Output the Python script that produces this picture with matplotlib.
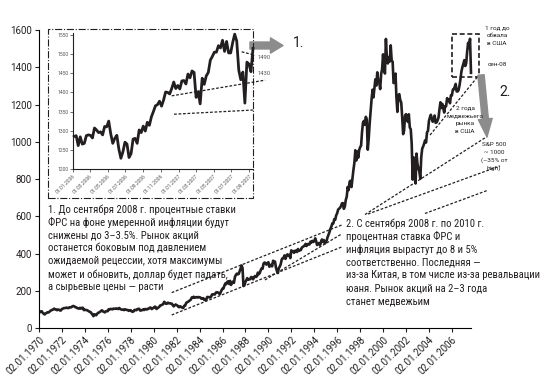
import matplotlib
matplotlib.use("Agg")
import matplotlib.pyplot as plt
import matplotlib.dates as mdates
from matplotlib import font_manager
from matplotlib.patches import Rectangle
import pandas as pd

# S&P 500, monthly, Jan 1970 - Aug 2007
sp500_monthly = [
    85.0, 89.5, 89.6, 81.5, 76.6, 72.7, 78.1, 81.5, 84.3, 83.3, 87.2, 92.2,
    95.9, 96.8, 100.3, 103.9, 99.6, 99.7, 95.6, 99.0, 98.3, 94.2, 94.0, 102.1,
    103.9, 106.6, 107.2, 107.7, 109.5, 107.1, 107.4, 111.1, 110.6, 111.6, 116.7, 118.1,
    116.0, 111.7, 111.5, 107.0, 105.0, 104.3, 108.2, 104.3, 108.4, 108.3, 96.0, 97.6,
    96.6, 96.2, 94.0, 90.3, 87.3, 86.0, 79.3, 72.2, 63.5, 73.9, 70.0, 68.6,
    77.0, 81.6, 83.4, 87.3, 91.2, 95.2, 88.8, 86.9, 83.9, 89.0, 91.2, 90.2,
    100.9, 99.7, 102.8, 101.6, 100.2, 104.3, 103.4, 102.9, 105.2, 102.9, 102.1, 107.5,
    102.0, 99.8, 98.4, 98.4, 96.1, 100.5, 98.9, 96.8, 96.5, 92.3, 94.8, 95.1,
    89.3, 87.0, 89.2, 96.8, 97.2, 95.5, 100.7, 103.3, 102.5, 93.2, 94.7, 96.1,
    99.9, 96.3, 101.6, 101.8, 99.1, 102.9, 103.8, 109.3, 109.3, 101.8, 106.2, 107.9,
    114.2, 113.7, 102.1, 106.3, 111.2, 114.2, 121.7, 122.4, 125.5, 127.5, 140.5, 135.8,
    129.6, 131.3, 136.0, 132.8, 132.6, 131.2, 130.9, 122.8, 116.2, 121.9, 126.4, 122.6,
    120.4, 113.1, 112.0, 116.4, 111.9, 109.6, 107.1, 119.5, 120.4, 133.7, 138.5, 140.6,
    145.3, 148.1, 153.0, 164.4, 162.4, 168.1, 162.6, 164.4, 166.1, 163.6, 166.4, 164.9,
    163.4, 157.1, 159.2, 160.1, 150.6, 153.2, 150.7, 166.7, 166.1, 166.1, 163.6, 167.2,
    179.6, 181.2, 180.7, 179.8, 189.6, 191.9, 190.9, 188.6, 182.1, 189.8, 202.2, 211.3,
    211.8, 226.9, 238.9, 235.5, 247.4, 250.8, 236.1, 252.9, 231.3, 244.0, 249.2, 242.2,
    274.1, 284.2, 291.7, 288.4, 290.1, 304.0, 318.7, 336.0, 321.8, 225.0, 230.3, 247.1,
    257.1, 267.8, 258.9, 261.3, 262.2, 273.5, 272.0, 261.5, 271.9, 279.0, 273.7, 277.7,
    297.5, 288.9, 294.9, 309.6, 320.5, 318.0, 346.1, 351.5, 349.2, 340.4, 346.0, 353.4,
    329.1, 331.9, 339.9, 330.8, 361.2, 358.0, 356.2, 322.6, 306.1, 295.0, 322.2, 330.2,
    343.9, 367.1, 375.2, 375.4, 389.8, 371.2, 387.8, 395.4, 387.9, 392.5, 375.2, 417.1,
    408.8, 412.7, 403.7, 415.0, 415.4, 408.1, 424.2, 414.0, 417.8, 418.7, 431.4, 435.7,
    438.8, 443.4, 451.7, 440.2, 450.2, 450.5, 448.1, 463.6, 458.9, 467.8, 461.8, 466.5,
    481.6, 467.1, 445.8, 450.9, 456.5, 444.3, 458.3, 475.5, 462.7, 472.4, 453.7, 459.3,
    470.4, 487.4, 500.7, 514.7, 533.4, 544.8, 562.1, 561.9, 584.4, 581.5, 605.4, 615.9,
    636.0, 640.4, 645.5, 654.2, 669.1, 670.6, 640.0, 652.0, 687.3, 705.3, 757.0, 740.7,
    786.2, 790.8, 757.1, 801.3, 848.3, 885.1, 954.3, 899.5, 947.3, 914.6, 955.4, 970.4,
    980.3, 1049.3, 1101.8, 1111.8, 1090.8, 1133.8, 1120.7, 957.3, 1017.0, 1098.7, 1163.6, 1229.2,
    1279.6, 1238.3, 1286.4, 1335.2, 1301.8, 1372.7, 1328.7, 1320.4, 1282.7, 1362.9, 1388.9, 1469.3,
    1394.5, 1366.4, 1552.0, 1452.4, 1420.6, 1454.6, 1430.8, 1517.7, 1436.5, 1429.4, 1315.0, 1320.3,
    1366.0, 1239.9, 1160.3, 1249.5, 1255.8, 1224.4, 1211.2, 1133.6, 1040.9, 1059.8, 1139.5, 1148.1,
    1130.2, 1106.7, 1147.4, 1076.9, 1067.1, 989.8, 797.0, 916.1, 815.3, 776.0, 936.3, 879.8,
    855.7, 841.2, 800.7, 916.9, 963.6, 974.5, 990.3, 1008.0, 996.0, 1050.7, 1058.2, 1111.9,
    1131.1, 1144.9, 1126.2, 1107.3, 1120.7, 1140.8, 1101.7, 1104.2, 1114.6, 1130.2, 1173.8, 1211.9,
    1181.3, 1203.6, 1180.6, 1156.9, 1191.5, 1191.3, 1234.2, 1220.3, 1228.8, 1207.0, 1249.5, 1248.3,
    1280.1, 1280.7, 1294.8, 1310.6, 1270.1, 1270.2, 1276.7, 1303.8, 1335.9, 1377.9, 1400.6, 1418.3,
    1438.2, 1406.8, 1420.9, 1482.4, 1530.6, 1503.4, 1553.0, 1370.0,
]

# S&P 500, weekly, Jan 2006 - mid Sep 2007 (inset)
sp500_weekly = [
    1285, 1287, 1261, 1284,
    1265, 1267, 1287, 1289,
    1288, 1281, 1307, 1302, 1295,
    1297, 1289, 1311, 1310,
    1325, 1292, 1267, 1280,
    1288, 1252, 1228, 1245, 1270,
    1265, 1230, 1240, 1278,
    1280, 1267, 1302, 1295,
    1312, 1299, 1322, 1314, 1336,
    1350, 1365, 1368, 1377,
    1364, 1380, 1401, 1400,
    1396, 1410, 1427, 1410, 1418,
    1409, 1430, 1431, 1422,
    1448, 1438, 1456, 1452,
    1387, 1402, 1370, 1437, 1421,
    1443, 1452, 1484, 1494,
    1505, 1505, 1522, 1516,
    1536, 1507, 1533, 1503, 1503,
    1530, 1552, 1534, 1458,
    1433, 1453, 1372, 1479, 1474,
    1454, 1515,
]

main_ticks = [pd.Timestamp(f"{y}-01-02") for y in range(1970, 2007, 2)]
main_yticks = list(range(0, 1601, 200))
inset_ticks = pd.date_range("2006-01-01", "2007-09-01", freq="2MS")
inset_yticks = list(range(1200, 1551, 50))

# trend lines on the main chart: (start year, start value, end year, end value)
trend_lines = [
    (1981.57, 190, 1996.39, 553),
    (1981.57, 70, 1996.39, 435),
    (1989.70, 258, 1996.39, 505),
    (2004.09, 1036, 2008.36, 1358),
    (1998.42, 609, 2009.06, 1028),
    (1998.68, 612, 2010.19, 870),
    (2003.65, 615, 2009.06, 738),
]
# trend lines on the inset: (start date, start value, end date, end value)
inset_lines = [
    ("2007-08-06", 1506, "2007-09-21", 1497),
    ("2006-12-08", 1391, "2007-10-26", 1432),
    ("2006-12-16", 1343, "2007-09-15", 1354),
]

text1 = [
    "1. До сентября 2008 г. процентные ставки",
    "ФРС на фоне умеренной инфляции будут",
    "снижены до 3–3.5%. Рынок акций",
    "останется боковым под давлением",
    "ожидаемой рецессии, хотя максимумы",
    "может и обновить, доллар будет падать,",
    "а сырьевые цены — расти",
]
text2 = [
    "2. С сентября 2008 г. по 2010 г.",
    "процентная ставка ФРС и",
    "инфляция вырастут до 8 и 5%",
    "соответственно. Последняя —",
    "из-за Китая, в том числе из-за ревальвации",
    "юаня. Рынок акций на 2–3 года",
    "станет медвежьим",
]

# pick the narrowest sans available for the commentary
names = {f.name for f in font_manager.fontManager.ttflist}
body_font = "Roboto"
for cand in ["Liberation Sans Narrow", "Roboto Condensed", "Open Sans Condensed"]:
    if cand in names:
        body_font = cand
        break
plt.rcParams["font.family"] = ["Roboto", "DejaVu Sans"]

W, H = 556, 383
ink = "#231f20"
grey = "#8c8c8c"


def fx(px):
    return px / W


def fy(py):
    return 1 - py / H


def yr(y):
    return pd.Timestamp("1970-01-01") + pd.Timedelta(days=(y - 1970) * 365.25)


fig = plt.figure(figsize=(5.56, 3.83), dpi=100)
renderer = fig.canvas.get_renderer()

# main chart
ax = fig.add_axes([fx(39), fy(328), fx(503.5) - fx(39), fy(20.7) - fy(328)])
dates = pd.date_range("1970-01-31", periods=len(sp500_monthly), freq="ME")
ax.plot(dates, sp500_monthly, color=ink, lw=1.9, solid_joinstyle="round")
ax.set_xlim(pd.Timestamp("1970-01-02"), pd.Timestamp("2010-07-01"))
ax.set_ylim(0, 1650)
ax.set_xticks(main_ticks)
ax.xaxis.set_major_formatter(mdates.DateFormatter("%d.%m.%Y"))
ax.set_yticks(main_yticks)
for s in ["top", "right"]:
    ax.spines[s].set_visible(False)
ax.spines["left"].set_bounds(0, 1600)
ax.spines["bottom"].set_bounds(mdates.date2num(pd.Timestamp("1970-01-02")),
                               mdates.date2num(dates[-1]))
ax.tick_params(axis="both", length=3, width=0.8, pad=2, labelsize=7, colors=ink)
plt.setp(ax.get_xticklabels(), rotation=45, ha="right", rotation_mode="anchor")
ax.patch.set_alpha(0)

for x0, y0, x1, y1 in trend_lines:
    ax.plot([yr(x0), yr(x1)], [y0, y1], color=ink, lw=0.9, ls=(0, (2.2, 1.4)),
            clip_on=False)

# dashed box around the last year
bx0, bx1 = yr(2006.03), yr(2008.39)
ax.add_patch(Rectangle((mdates.date2num(bx0), 1349),
                       mdates.date2num(bx1) - mdates.date2num(bx0), 1578 - 1349,
                       fill=False, ec=ink, lw=1.2, ls=(0, (3, 1.6)), clip_on=False))

# inset frame and inset chart
fig.patches.append(Rectangle((fx(48), fy(198)), fx(253) - fx(48), fy(29) - fy(198),
                             transform=fig.transFigure, fill=False, ec=ink,
                             lw=0.8, ls="-."))
ax_in = fig.add_axes([fx(72.7), fy(169), fx(253) - fx(72.7), fy(31.1) - fy(169)])
wdates = pd.date_range("2006-01-06", periods=len(sp500_weekly), freq="W-FRI")
ax_in.plot(wdates, sp500_weekly, color=ink, lw=2.0, clip_on=False)
ax_in.set_xlim(pd.Timestamp("2006-01-01"), pd.Timestamp("2007-09-14"))
ax_in.set_ylim(1200, 1560)
ax_in.set_xticks(inset_ticks)
ax_in.xaxis.set_major_formatter(mdates.DateFormatter("%d.%m.%Y"))
ax_in.set_yticks(inset_yticks)
for s in ["top", "right"]:
    ax_in.spines[s].set_visible(False)
ax_in.spines["left"].set_bounds(1200, 1555)
ax_in.tick_params(axis="both", length=2, width=0.6, pad=1, labelsize=3.6,
                  colors="#555555")
ax_in.spines["left"].set_color(ink)
ax_in.spines["bottom"].set_color(ink)
plt.setp(ax_in.get_xticklabels(), rotation=45, ha="right", rotation_mode="anchor")
ax_in.patch.set_alpha(0)
for d0, v0, d1, v1 in inset_lines:
    ax_in.plot([pd.Timestamp(d0), pd.Timestamp(d1)], [v0, v1], color=ink, lw=0.9,
               ls=(0, (2.2, 1.4)), clip_on=False)
fig.text(fx(258), fy(57.5), "1490", fontsize=4.2, color="#555555", va="center")
fig.text(fx(258), fy(73.3), "1430", fontsize=4.2, color="#555555", va="center")

# grey arrows
ax.annotate("", xy=(283, H - 45.5), xytext=(250, H - 45.5),
            xycoords="figure pixels", textcoords="figure pixels",
            arrowprops=dict(arrowstyle="simple,head_length=0.9,head_width=1.1,tail_width=0.5",
                            color=grey, shrinkA=0, shrinkB=0, mutation_scale=10))
ax.annotate("", xy=(487, H - 137), xytext=(481, H - 75),
            xycoords="figure pixels", textcoords="figure pixels",
            arrowprops=dict(arrowstyle="simple,head_length=1.3,head_width=1.0,tail_width=0.45",
                            color=grey, shrinkA=0, shrinkB=0, mutation_scale=10))
fig.text(fx(293), fy(43), "1.", fontsize=10, color=ink, va="center")
fig.text(fx(499), fy(92), "2.", fontsize=10, color=ink, va="center")

# small labels on the right
small = dict(fontsize=4.6, color=ink, ha="center", va="center")
for i, s in enumerate(["1 год до", "обвала", "в США"]):
    fig.text(fx(497), fy(28 + 7.8 * i), s, **small)
fig.text(fx(497.5), fy(64.3), "сен-08", **small)
for i, s in enumerate(["2 года", "медвежьего", "рынка", "в США"]):
    fig.text(fx(465), fy(107.7 + 7.9 * i), s, **small)
for i, s in enumerate(["S&P 500", "~ 1000", "(–35% от", "high)"]):
    fig.text(fx(494), fy(145 + 7.8 * i), s, **small)

# commentary: size the font so the longest line spans the same width as in the source
probe = fig.text(0, 0, text2[4], fontsize=10, family=[body_font, "DejaVu Sans"])
probe_w = probe.get_window_extent(renderer).width
probe.remove()
body_size = 10 * 195.0 / probe_w
body = dict(fontsize=body_size, color=ink, va="center", family=[body_font, "DejaVu Sans"])
for i, s in enumerate(text1):
    fig.text(fx(48), fy(209.3 + 13.0 * i), s, **body)
for i, s in enumerate(text2):
    fig.text(fx(346.5), fy(223.3 + 13.05 * i), s, **body)

fig.savefig("out.png", dpi=100)
